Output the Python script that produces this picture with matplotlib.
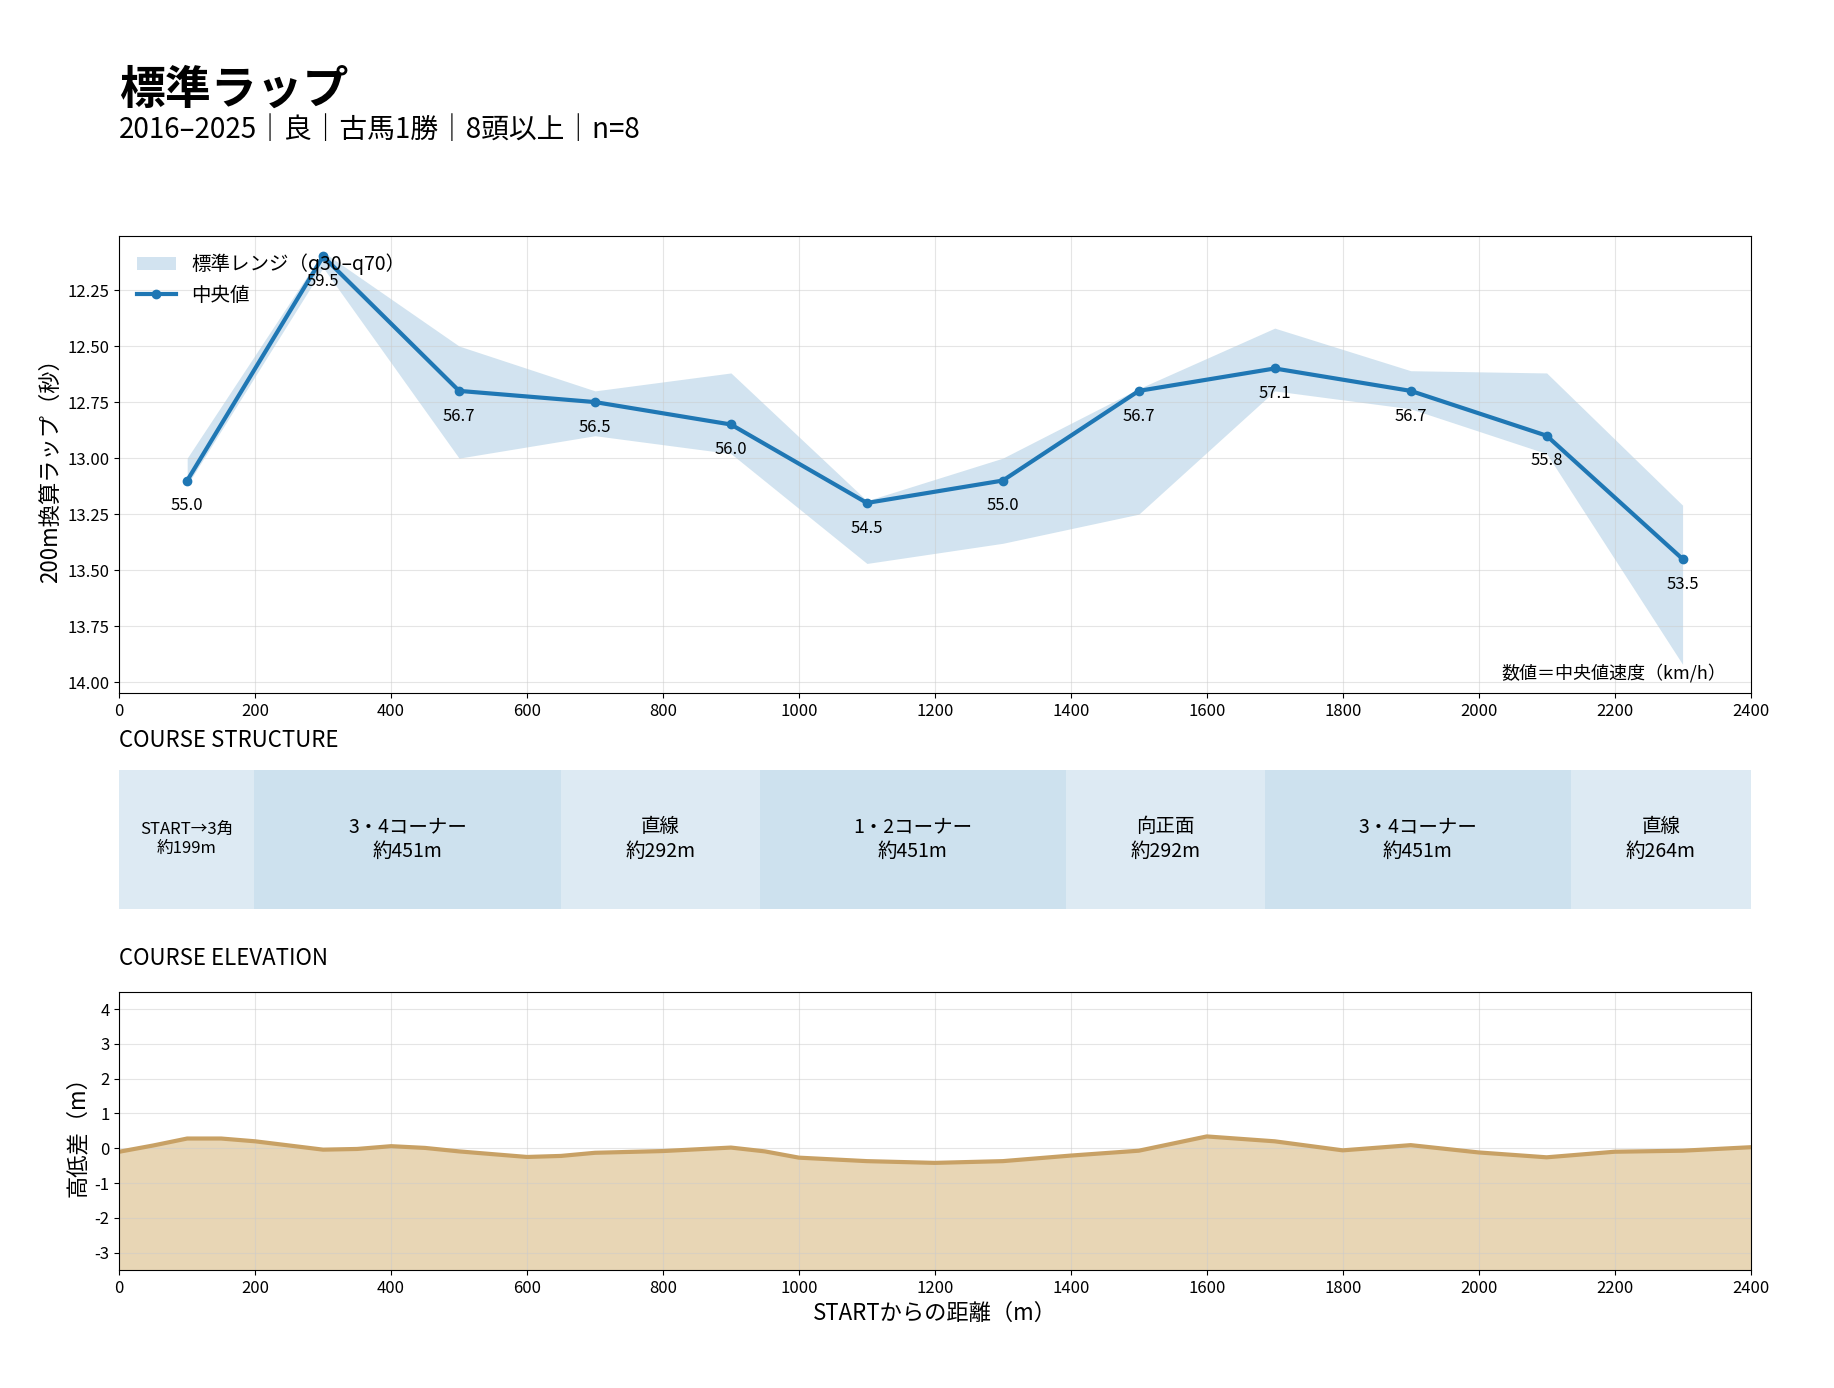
import numpy as np
import matplotlib
matplotlib.use("Agg")
import matplotlib.pyplot as plt

plt.rcParams['font.family'] = ['Noto Sans CJK JP', 'DejaVu Sans']
plt.rcParams['axes.unicode_minus'] = False

# lap data (200m sections, seconds)
dist = [100, 300, 500, 700, 900, 1100, 1300, 1500, 1700, 1900, 2100, 2300]
median = [13.10, 12.10, 12.70, 12.75, 12.85, 13.20, 13.10, 12.70, 12.60, 12.70, 12.90, 13.45]
q30 = [13.00, 12.08, 12.50, 12.70, 12.62, 13.19, 13.00, 12.69, 12.42, 12.61, 12.62, 13.21]
q70 = [13.12, 12.15, 13.00, 12.90, 12.98, 13.47, 13.38, 13.25, 12.70, 12.78, 12.98, 13.92]

# course structure
seg_names = ['START→3角', '3・4コーナー', '直線', '1・2コーナー', '向正面', '3・4コーナー', '直線']
seg_lengths = [199, 451, 292, 451, 292, 451, 264]

# elevation profile
elev_x = [0, 50, 100, 150, 200, 300, 350, 400, 450, 500, 600, 650, 700, 800, 900, 950,
          1000, 1100, 1200, 1300, 1400, 1500, 1600, 1700, 1800, 1900, 2000, 2100, 2200, 2300, 2400]
elev_y = [-0.10, 0.08, 0.28, 0.28, 0.20, -0.04, -0.02, 0.06, 0.01, -0.09, -0.25, -0.22, -0.13, -0.08, 0.02, -0.09,
          -0.27, -0.37, -0.42, -0.37, -0.21, -0.07, 0.34, 0.20, -0.06, 0.09, -0.12, -0.26, -0.10, -0.07, 0.03]

blue = '#1f77b4'
left, width = 0.065, 0.8895

fig = plt.figure(figsize=(18.34, 13.88), dpi=100)

fig.text(left, 0.925, '標準ラップ', fontsize=33, fontweight='bold', va='baseline')
fig.text(left, 0.9006, '2016–2025｜良｜古馬1勝｜8頭以上｜n=8', fontsize=20, va='baseline')

# main lap chart
ax = fig.add_axes([left, 0.5004, width, 0.3294])
ax.fill_between(dist, q30, q70, color=blue, alpha=0.2, linewidth=0, label='標準レンジ（q30–q70）')
ax.plot(dist, median, color=blue, linewidth=3, marker='o', markersize=6, label='中央値')
for x, t in zip(dist, median):
    kmh = 720.0 / t
    ax.annotate(f'{kmh:.1f}', (x, t), xytext=(0, -12), textcoords='offset points',
                ha='center', va='top', fontsize=12)
ax.set_xlim(0, 2400)
ax.set_ylim(14.05, 12.01)
ax.set_yticks([12.25, 12.5, 12.75, 13.0, 13.25, 13.5, 13.75, 14.0])
ax.set_xticks(range(0, 2401, 200))
ax.tick_params(labelsize=12)
ax.grid(True, color='#cccccc', alpha=0.5, linewidth=0.8)
ax.set_ylabel('200m換算ラップ（秒）', fontsize=16)
ax.legend(loc='upper left', frameon=False, fontsize=14)
ax.text(0.985, 0.025, '数値＝中央値速度（km/h）', transform=ax.transAxes,
        ha='right', va='bottom', fontsize=13)

# course structure
fig.text(left, 0.4618, 'COURSE STRUCTURE', fontsize=16, va='baseline')
axs = fig.add_axes([left, 0.3454, width, 0.1002])
start = 0
for i, (name, length) in enumerate(zip(seg_names, seg_lengths)):
    alpha = 0.15 if i % 2 == 0 else 0.22
    axs.barh(0, length, left=start, height=1, color=blue, alpha=alpha, linewidth=0)
    fs = 12 if i == 0 else 14
    axs.text(start + length / 2, 0, f'{name}\n約{length}m', ha='center', va='center',
             fontsize=fs, linespacing=1.2)
    start += length
axs.set_xlim(0, 2400)
axs.set_ylim(-0.5, 0.5)
axs.axis('off')

# elevation
fig.text(left, 0.3046, 'COURSE ELEVATION', fontsize=16, va='baseline')
axe = fig.add_axes([left, 0.085, width, 0.2005])
axe.fill_between(elev_x, elev_y, -3.5, color='#cca45b', alpha=0.45, linewidth=0)
axe.plot(elev_x, elev_y, color='#c8a165', linewidth=3)
axe.set_xlim(0, 2400)
axe.set_ylim(-3.5, 4.5)
axe.set_yticks(range(-3, 5))
axe.set_xticks(range(0, 2401, 200))
axe.tick_params(labelsize=12)
axe.grid(True, color='#cccccc', alpha=0.5, linewidth=0.8)
axe.set_xlabel('STARTからの距離（m）', fontsize=16)
axe.set_ylabel('高低差（m）', fontsize=16)

fig.savefig('out.png', dpi=100)
